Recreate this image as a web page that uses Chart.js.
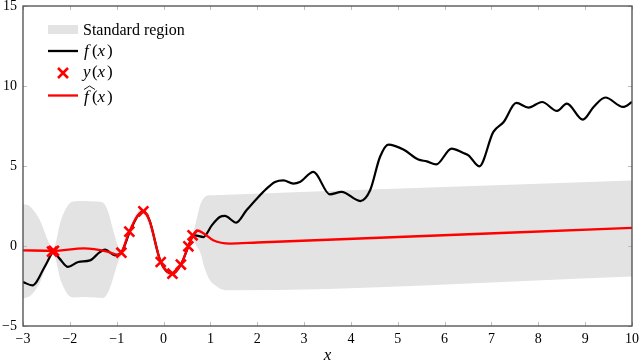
<!DOCTYPE html>
<html>
<head>
<meta charset="utf-8">
<script src="https://cdn.jsdelivr.net/npm/chart.js@4"></script>
<style>
  html, body { margin: 0; padding: 0; background: #fff; }
  #grafica { display: block; }
</style>
</head>
<body>
<canvas id="grafica" width="640" height="363"></canvas>
<script>
// curva real f(x)
const fX = [-3, -2.8, -2.54, -2.39, -2.36, -2.22, -2.04, -1.82, -1.57, -1.36, -1.25, -1.04, -0.9, -0.72, -0.55, -0.43, -0.3, -0.06, 0.19, 0.37, 0.53, 0.62, 0.67, 0.85, 1.03, 1.2, 1.31, 1.55, 1.77, 1.99, 2.2, 2.38, 2.56, 2.77, 2.91, 3.2, 3.55, 3.8, 4.2, 4.41, 4.62, 4.8, 5.12, 5.44, 5.62, 5.82, 6.15, 6.4, 6.51, 6.74, 7.04, 7.26, 7.53, 7.79, 8.08, 8.4, 8.61, 8.95, 9.18, 9.43, 9.81, 10];
const fY = [-2.25, -2.46, -1.31, -0.48, -0.35, -0.79, -1.31, -1.0, -0.9, -0.38, -0.23, -0.58, -0.4, 0.88, 1.9, 2.17, 1.6, -1.0, -1.73, -1.16, -0.02, 0.62, 0.67, 0.56, 1.29, 1.81, 1.88, 1.46, 2.23, 2.96, 3.59, 4.0, 4.1, 3.9, 4.0, 4.63, 3.23, 3.38, 2.81, 3.48, 5.56, 6.34, 6.03, 5.4, 5.29, 5.1, 6.09, 5.81, 5.67, 4.98, 7.13, 7.75, 8.94, 8.65, 9.0, 8.44, 8.9, 7.9, 8.69, 9.28, 8.69, 9.0];

// observaciones y(x)
const yX = [-2.38, -2.34, -0.9, -0.73, -0.43, -0.06, 0.19, 0.37, 0.53, 0.62];
const yY = [-0.35, -0.3, -0.42, 0.9, 2.17, -1.0, -1.73, -1.16, -0.02, 0.67];

// estimacion f gorro
const hX = [-3, -2.36, -1.7, -1.2, -0.97, -0.9, -0.73, -0.55, -0.43, -0.3, -0.06, 0.19, 0.37, 0.53, 0.62, 0.72, 0.85, 1.06, 1.42, 2.0, 10];
const hY = [-0.27, -0.3, -0.15, -0.35, -0.55, -0.42, 0.9, 1.9, 2.17, 1.6, -1.0, -1.73, -1.16, -0.02, 0.6, 0.97, 0.8, 0.36, 0.15, 0.22, 1.13];

// region estandar (borde superior e inferior)
const bandX = [-3, -2.85, -2.64, -2.5, -2.39, -2.36, -2.29, -2.22, -2.15, -2.04, -1.93, -1.7, -1.45, -1.29, -1.18, -1.08, -0.97, -0.9, -0.8, -0.73, -0.6, -0.5, -0.43, -0.35, -0.25, -0.15, -0.06, 0.05, 0.19, 0.28, 0.37, 0.45, 0.53, 0.62, 0.7, 0.78, 0.88, 0.99, 1.1, 1.2, 1.35, 10];
const bandHi = [2.62, 2.47, 1.62, 0.57, -0.13, -0.28, 0.34, 1.3, 1.93, 2.55, 2.78, 2.82, 2.78, 2.7, 2.12, 1.05, 0.0, -0.25, 0.55, 1.05, 1.95, 2.3, 2.32, 2.2, 1.35, 0.1, -0.85, -1.3, -1.58, -1.4, -1.01, -0.45, 0.13, 0.75, 1.6, 2.54, 3.06, 3.17, 3.17, 3.18, 3.2, 4.1];
const bandLo = [-3.28, -3.13, -2.28, -1.23, -0.53, -0.38, -0.96, -1.9, -2.47, -3.05, -3.22, -3.18, -3.22, -3.25, -2.88, -2.05, -1.0, -0.55, 0.0, 0.75, 1.45, 1.9, 2.02, 1.6, 0.65, -0.5, -1.15, -1.7, -1.88, -1.7, -1.31, -0.75, -0.17, 0.45, 0.0, -0.37, -1.41, -2.14, -2.46, -2.66, -2.77, -1.9];

const FUENTE = '"Liberation Serif", "Times New Roman", serif';
const ROJO = '#ff0000';
const GRIS = '#e3e3e3';

const puntos = (xs, ys) => xs.map((x, i) => ({ x: x, y: ys[i] }));

// glifos colocados uno a uno: [texto, cursiva, x]
function escribir(ctx, y, partes, size) {
    partes.forEach(p => {
        ctx.font = (p[1] ? 'italic ' : '') + size + 'px ' + FUENTE;
        ctx.fillText(p[0], p[2], y);
    });
}

const marco = {
    id: 'marco',
    afterDraw(chart) {
        const ctx = chart.ctx;
        const a = chart.chartArea;
        const sx = chart.scales.x, sy = chart.scales.y;
        ctx.save();
        // marcas interiores
        ctx.strokeStyle = '#bdbdbd';
        ctx.lineWidth = 1;
        ctx.beginPath();
        sx.ticks.forEach(t => {
            const px = Math.round(sx.getPixelForValue(t.value)) + 0.5;
            ctx.moveTo(px, a.bottom); ctx.lineTo(px, a.bottom - 4);
            ctx.moveTo(px, a.top); ctx.lineTo(px, a.top + 4);
        });
        sy.ticks.forEach(t => {
            const py = Math.round(sy.getPixelForValue(t.value)) + 0.5;
            ctx.moveTo(a.left, py); ctx.lineTo(a.left + 4, py);
            ctx.moveTo(a.right, py); ctx.lineTo(a.right - 4, py);
        });
        ctx.stroke();
        // caja
        ctx.strokeStyle = '#4a4a4a';
        ctx.lineWidth = 1.3;
        ctx.strokeRect(a.left, a.top, a.width, a.height);

        // leyenda
        ctx.fillStyle = GRIS;
        ctx.fillRect(48, 25, 30, 9);
        ctx.lineCap = 'butt';
        ctx.lineWidth = 2.3;
        ctx.strokeStyle = '#000';
        ctx.beginPath(); ctx.moveTo(48, 51); ctx.lineTo(78, 51); ctx.stroke();
        ctx.strokeStyle = ROJO;
        ctx.lineWidth = 2.6;
        ctx.beginPath();
        ctx.moveTo(58, 68); ctx.lineTo(68, 78);
        ctx.moveTo(68, 68); ctx.lineTo(58, 78);
        ctx.stroke();
        ctx.lineWidth = 2.3;
        ctx.beginPath(); ctx.moveTo(48, 95.5); ctx.lineTo(78, 95.5); ctx.stroke();

        ctx.fillStyle = '#000';
        ctx.textBaseline = 'alphabetic';
        ctx.textAlign = 'left';
        escribir(ctx, 35, [['Standard region', false, 83]], 16);
        escribir(ctx, 55.5, [['f', true, 84], ['(', false, 92], ['x', true, 97.5], [')', false, 107]], 17);
        escribir(ctx, 77.3, [['y', true, 83], ['(', false, 92], ['x', true, 97.5], [')', false, 107]], 17);
        escribir(ctx, 102, [['f', true, 84], ['(', false, 92], ['x', true, 97.5], [')', false, 107]], 17);
        // gorro ancho sobre la f
        ctx.strokeStyle = '#000';
        ctx.lineWidth = 0.9;
        ctx.beginPath();
        ctx.moveTo(84, 89.5); ctx.lineTo(89.5, 86); ctx.lineTo(95, 89.5);
        ctx.stroke();
        ctx.restore();
    }
};

const ctx = document.getElementById('grafica');
const grafica = new Chart(ctx, {
    type: 'line',
    data: {
        datasets: [
            {
                label: 'y(x)',
                data: puntos(yX, yY),
                showLine: false,
                pointStyle: 'crossRot',
                pointRadius: 7,
                pointBorderWidth: 2.6,
                borderColor: ROJO,
                pointBorderColor: ROJO,
                order: 0
            },
            {
                label: 'f gorro',
                data: puntos(hX, hY),
                borderColor: ROJO,
                borderWidth: 2.3,
                pointRadius: 0,
                cubicInterpolationMode: 'monotone',
                order: 1
            },
            {
                label: 'f(x)',
                data: puntos(fX, fY),
                borderColor: '#000',
                borderWidth: 2.2,
                pointRadius: 0,
                cubicInterpolationMode: 'monotone',
                order: 2
            },
            {
                label: 'Standard region',
                data: puntos(bandX, bandHi),
                borderWidth: 0,
                borderColor: 'rgba(0,0,0,0)',
                backgroundColor: GRIS,
                pointRadius: 0,
                cubicInterpolationMode: 'monotone',
                fill: 4,
                order: 3
            },
            {
                label: 'lo',
                data: puntos(bandX, bandLo),
                borderWidth: 0,
                borderColor: 'rgba(0,0,0,0)',
                pointRadius: 0,
                cubicInterpolationMode: 'monotone',
                fill: false,
                order: 4
            }
        ]
    },
    options: {
        responsive: false,
        animation: false,
        devicePixelRatio: 1,
        layout: { autoPadding: false, padding: { left: 0, right: 8, top: 6, bottom: 0 } },
        plugins: {
            legend: { display: false },
            tooltip: { enabled: false }
        },
        scales: {
            x: {
                type: 'linear',
                min: -3,
                max: 10,
                grid: { display: false, drawTicks: false },
                border: { display: false },
                ticks: {
                    stepSize: 1,
                    padding: 5,
                    color: '#000',
                    maxRotation: 0,
                    font: { family: FUENTE, size: 14 },
                    callback: v => String(v).replace('-', '\u2212')
                },
                title: {
                    display: true,
                    text: 'x',
                    color: '#000',
                    font: { family: FUENTE, size: 17, style: 'italic' },
                    padding: { top: 0, bottom: -3 }
                },
                afterFit: s => { s.height = 37; s.paddingLeft = 0; s.paddingRight = 0; }
            },
            y: {
                min: -5,
                max: 15,
                grid: { display: false, drawTicks: false },
                border: { display: false },
                ticks: {
                    stepSize: 5,
                    padding: 6,
                    color: '#000',
                    font: { family: FUENTE, size: 14 },
                    callback: v => String(v).replace('-', '\u2212')
                },
                afterFit: s => { s.width = 23; s.paddingTop = 0; s.paddingBottom = 0; }
            }
        }
    },
    plugins: [marco]
});
</script>
</body>
</html>
